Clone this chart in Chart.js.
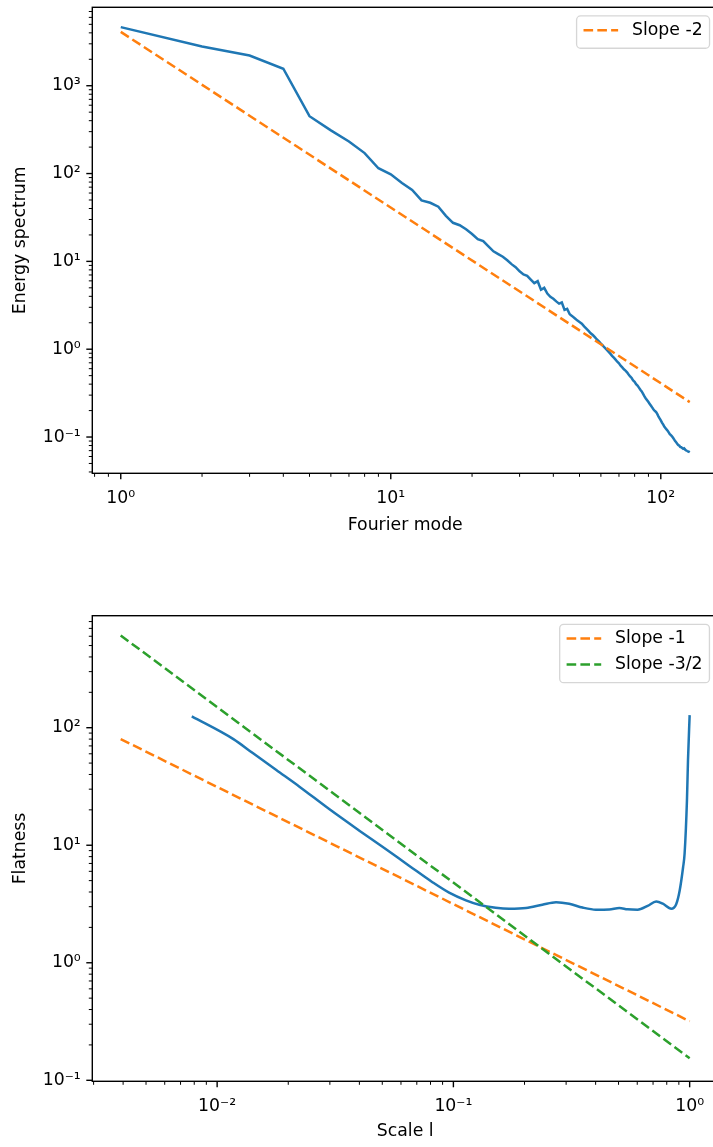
<!DOCTYPE html>
<html>
<head>
<meta charset="utf-8">
<script src="https://cdn.jsdelivr.net/npm/chart.js@4.4.1/dist/chart.umd.min.js"></script>
<style>
html, body { margin: 0; padding: 0; overflow: hidden; background: #fff; width: 713px; height: 1147px; }
.wrap { position: absolute; left: 0; width: 730px; }
</style>
</head>
<body>
<div class="wrap" style="top:0;height:560px"><canvas id="c1"></canvas></div>
<div class="wrap" style="top:560px;height:587px"><canvas id="c2"></canvas></div>
<script>
// ---------- data ----------
const modes = Array.from({length: 128}, (_, i) => i + 1);
const energy = [
  4650, 2800, 2210, 1560, 450, 310, 232, 171, 115, 98,
  78, 65, 49.5, 46.5, 42, 33, 27.5, 25.8, 23.2, 20.5,
  17.9, 17.0, 14.8, 13.0, 12.1, 11.3, 10.3, 9.3, 8.6, 7.7,
  7.1, 6.85, 6.2, 5.65, 5.95, 4.75, 5.0, 4.3, 3.95, 3.75,
  3.5, 3.3, 3.4, 2.8, 2.88, 2.5, 2.38, 2.25, 2.13, 2.04,
  1.95, 1.82, 1.72, 1.62, 1.52, 1.45, 1.37, 1.29, 1.23, 1.16,
  1.10, 1.04, 0.99, 0.94, 0.89, 0.84, 0.80, 0.76, 0.72, 0.69,
  0.65, 0.62, 0.59, 0.57, 0.545, 0.515, 0.49, 0.47, 0.44, 0.425,
  0.40, 0.385, 0.365, 0.345, 0.33, 0.31, 0.29, 0.275, 0.262, 0.25,
  0.238, 0.227, 0.216, 0.206, 0.198, 0.193, 0.183, 0.172, 0.163, 0.155,
  0.146, 0.139, 0.132, 0.127, 0.122, 0.118, 0.113, 0.108, 0.105, 0.102,
  0.098, 0.094, 0.090, 0.087, 0.084, 0.081, 0.080, 0.077, 0.0765, 0.075,
  0.0735, 0.0745, 0.072, 0.0705, 0.070, 0.0685, 0.068, 0.067
];
const slope2X = [1, 128];
const slope2Y = [4100, 0.25];

const scaleL = [0.00781, 0.01172, 0.0142, 0.0178, 0.0223, 0.0299, 0.040, 0.0501, 0.0649, 0.0815,
  0.0959, 0.113, 0.1286, 0.151, 0.172, 0.203, 0.238, 0.272, 0.309, 0.352,
  0.401, 0.457, 0.504, 0.546, 0.602, 0.664, 0.722, 0.77, 0.836, 0.877,
  0.907, 0.938, 0.952, 0.974, 0.984, 1.0];
const flatness = [125, 80, 60.5, 43.6, 31.5, 20.2, 13.3, 9.7, 6.7, 4.85,
  3.95, 3.4, 3.12, 2.94, 2.88, 2.92, 3.12, 3.28, 3.18, 2.95,
  2.83, 2.84, 2.92, 2.85, 2.83, 3.05, 3.32, 3.18, 2.88, 3.15,
  4.1, 6.5, 8.5, 24, 53, 128];
const slopeLineX = [1 / 256, 1];
const slope1Y = [80, 0.318];
const slope32Y = [610, 0.154];

const topLabels = {x: 'Fourier mode', y: 'Energy spectrum', line: 'Slope -2'};
const botLabels = {x: 'Scale l', y: 'Flatness', line1: 'Slope -1', line2: 'Slope -3/2'};

// ---------- styling helpers ----------
const FS = 17.3;
const BLUE = '#1f77b4', ORANGE = '#ff7f0e', GREEN = '#2ca02c';
const LW = 2.5, DASH = [9.6, 4.2];
Chart.defaults.font.family = '"DejaVu Sans"';
Chart.defaults.font.size = FS;
Chart.defaults.color = '#000';

const SUP = {'-': '\u207B', '0': '\u2070', '1': '\u00B9', '2': '\u00B2', '3': '\u00B3', '4': '\u2074'};
function isPow10(v) { const l = Math.log10(v); return Math.abs(l - Math.round(l)) < 1e-9; }
function powLabel(v) {
  if (!isPow10(v)) return '';
  const e = String(Math.round(Math.log10(v)));
  return '10' + e.split('').map(c => SUP[c]).join('');
}
function logTicks(min, max) {
  const out = [];
  for (let e = Math.floor(Math.log10(min)) - 1; e <= Math.ceil(Math.log10(max)); e++) {
    for (let m = 1; m <= 9; m++) {
      const v = m * Math.pow(10, e);
      if (v >= min * 0.99999 && v <= max * 1.00001) out.push({value: v});
    }
  }
  return out;
}
const pts = (xs, ys) => xs.map((x, i) => ({x, y: ys[i]}));

const mplAxes = {
  id: 'mplAxes',
  afterDraw(chart, args, opts) {
    const ctx = chart.ctx, a = chart.chartArea;
    ctx.save();
    ctx.strokeStyle = '#000';
    ['x', 'y'].forEach(id => {
      const s = chart.scales[id];
      s.ticks.forEach(t => {
        const p = s.getPixelForValue(t.value);
        const major = isPow10(t.value);
        const len = major ? 6 : 3.5;
        ctx.lineWidth = major ? 1.4 : 1.0;
        ctx.beginPath();
        if (id === 'x') { ctx.moveTo(p, a.bottom); ctx.lineTo(p, a.bottom + len); }
        else { ctx.moveTo(a.left, p); ctx.lineTo(a.left - len, p); }
        ctx.stroke();
      });
    });
    ctx.lineWidth = 1.4;
    ctx.strokeRect(a.left, a.top, a.right - a.left, a.bottom - a.top);

    // legend (matplotlib style, upper right)
    const items = (opts.legend || []).map(i => chart.data.datasets[i]);
    if (items.length) {
      ctx.font = FS + 'px "DejaVu Sans"';
      const tw = Math.max(...items.map(d => ctx.measureText(d.label).width));
      const bp = 0.4 * FS, hl = 2 * FS, htp = 0.8 * FS;
      const w = bp + hl + htp + tw + bp;
      const h = 32.3 + (items.length - 1) * 26;
      const right = a.right - 0.5 * FS, top = a.top + 0.5 * FS;
      const left = right - w;
      ctx.beginPath();
      ctx.roundRect(left, top, w, h, 4);
      ctx.fillStyle = 'rgba(255,255,255,0.8)';
      ctx.fill();
      ctx.strokeStyle = 'rgba(204,204,204,0.8)';
      ctx.lineWidth = 1.3;
      ctx.stroke();
      items.forEach((d, j) => {
        const cy = top + 14.2 + j * 26;
        ctx.setLineDash(d.borderDash || []);
        ctx.strokeStyle = d.borderColor;
        ctx.lineWidth = d.borderWidth;
        ctx.beginPath();
        ctx.moveTo(left + bp, cy);
        ctx.lineTo(left + bp + hl, cy);
        ctx.stroke();
        ctx.setLineDash([]);
        ctx.fillStyle = '#000';
        ctx.textAlign = 'left';
        ctx.textBaseline = 'middle';
        ctx.fillText(d.label, left + bp + hl + htp, cy);
      });
    }
    ctx.restore();
  }
};

function makeScale(axis, min, max, title, fitSize, titlePad) {
  return {
    type: 'logarithmic',
    min, max,
    grid: {display: false, drawTicks: false},
    border: {display: false},
    ticks: {
      autoSkip: false, maxRotation: 0, minRotation: 0,
      padding: axis === 'x' ? 15 : 11.5,
      callback: (v) => powLabel(v)
    },
    title: {display: true, text: title, padding: titlePad, font: {size: FS}},
    afterBuildTicks: (s) => { s.ticks = logTicks(min, max); },
    afterFit: (s) => {
      if (axis === 'x') s.height = fitSize; else s.width = fitSize;
      s.paddingLeft = 0; s.paddingRight = 0; s.paddingTop = 0; s.paddingBottom = 0;
    }
  };
}

const common = {
  responsive: true,
  maintainAspectRatio: false,
  animation: false,
  events: [],
  elements: {point: {radius: 0}},
};

new Chart(document.getElementById('c1'), {
  type: 'line',
  data: {
    datasets: [
      {label: 'E(k)', data: pts(modes, energy), borderColor: BLUE, borderWidth: LW, tension: 0, order: 2},
      {label: topLabels.line, data: pts(slope2X, slope2Y), borderColor: ORANGE, borderWidth: LW, borderDash: DASH, tension: 0, order: 1}
    ]
  },
  options: Object.assign({}, common, {
    layout: {autoPadding: false, padding: {left: 0, top: 7.3, right: 11.8, bottom: 0}},
    scales: {
      x: makeScale('x', Math.pow(10, -0.1054), Math.pow(10, 2.2126), topLabels.x, 86.7, {top: 0, bottom: 24.6}),
      y: makeScale('y', Math.pow(10, -1.413), Math.pow(10, 3.893), topLabels.y, 92.3, {top: 10, bottom: 0})
    },
    plugins: {legend: {display: false}, tooltip: {enabled: false}, mplAxes: {legend: [1]}}
  }),
  plugins: [mplAxes]
});

new Chart(document.getElementById('c2'), {
  type: 'line',
  data: {
    datasets: [
      {label: 'F(l)', data: pts(scaleL, flatness), borderColor: BLUE, borderWidth: LW, cubicInterpolationMode: 'monotone', order: 3},
      {label: botLabels.line1, data: pts(slopeLineX, slope1Y), borderColor: ORANGE, borderWidth: LW, borderDash: DASH, tension: 0, order: 2},
      {label: botLabels.line2, data: pts(slopeLineX, slope32Y), borderColor: GREEN, borderWidth: LW, borderDash: DASH, tension: 0, order: 1}
    ]
  },
  options: Object.assign({}, common, {
    layout: {autoPadding: false, padding: {left: 0, top: 55.7, right: 11.9, bottom: 0}},
    scales: {
      x: makeScale('x', Math.pow(10, -2.5284), Math.pow(10, 0.1204), botLabels.x, 65.7, {top: 0, bottom: 5.1}),
      y: makeScale('y', Math.pow(10, -1.0085), Math.pow(10, 2.953), botLabels.y, 92.3, {top: 10, bottom: 0})
    },
    plugins: {legend: {display: false}, tooltip: {enabled: false}, mplAxes: {legend: [1, 2]}}
  }),
  plugins: [mplAxes]
});
</script>
</body>
</html>
